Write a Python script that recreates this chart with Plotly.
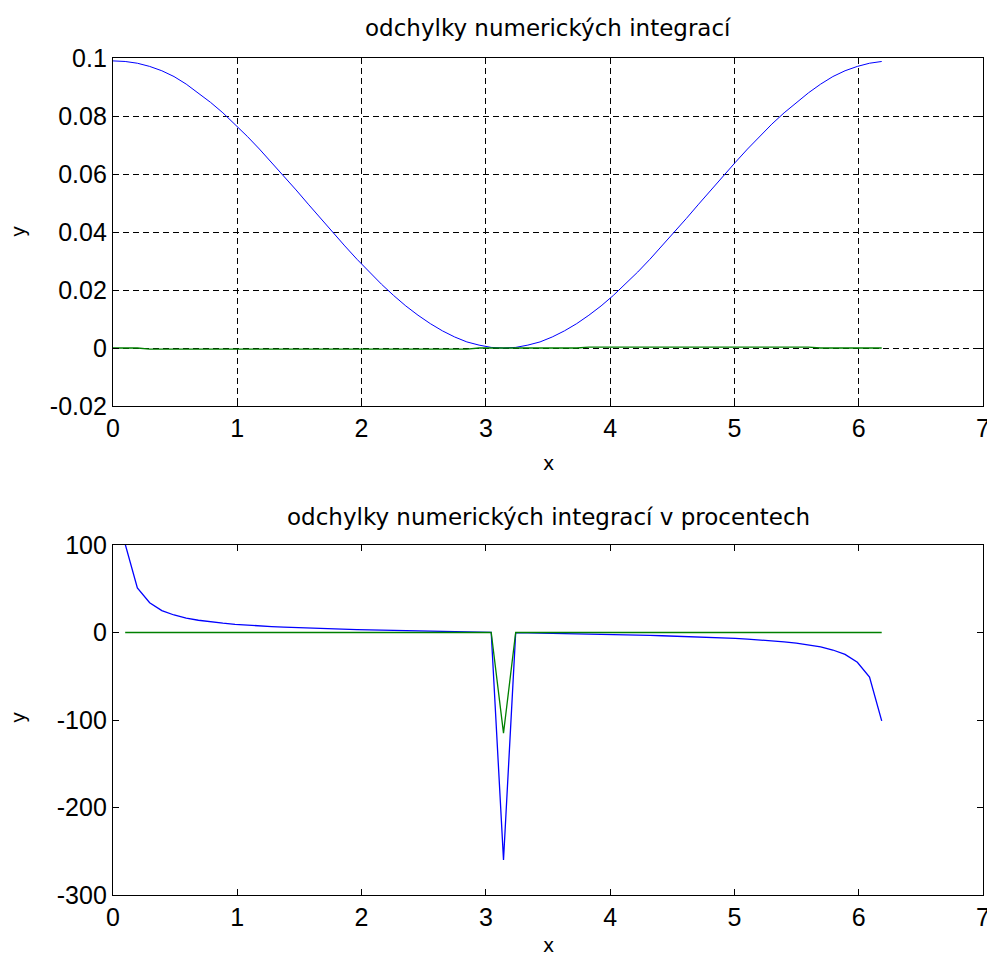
import plotly.graph_objects as go

# sample positions (x_k = k*pi/32, k = 0..63)
x_vals = [0.000, 0.098, 0.196, 0.295, 0.393, 0.491, 0.589, 0.687, 0.785, 0.884,
          0.982, 1.080, 1.178, 1.276, 1.374, 1.473, 1.571, 1.669, 1.767, 1.865,
          1.963, 2.062, 2.160, 2.258, 2.356, 2.454, 2.553, 2.651, 2.749, 2.847,
          2.945, 3.043, 3.142, 3.240, 3.338, 3.436, 3.534, 3.632, 3.731, 3.829,
          3.927, 4.025, 4.123, 4.222, 4.320, 4.418, 4.516, 4.614, 4.712, 4.811,
          4.909, 5.007, 5.105, 5.203, 5.301, 5.400, 5.498, 5.596, 5.694, 5.792,
          5.890, 5.989, 6.087, 6.185]

# top panel: deviations
dev_blue = [0.0990, 0.0988, 0.0982, 0.0971, 0.0956, 0.0936, 0.0910, 0.0880, 0.0847, 0.0811,
            0.0772, 0.0730, 0.0686, 0.0640, 0.0593, 0.0545, 0.0496, 0.0447, 0.0399, 0.0352,
            0.0306, 0.0262, 0.0220, 0.0181, 0.0145, 0.0113, 0.0084, 0.0059, 0.0038, 0.0021,
            0.0010, 0.0002, 0.0000, 0.0002, 0.0010, 0.0021, 0.0038, 0.0059, 0.0084, 0.0113,
            0.0145, 0.0181, 0.0220, 0.0262, 0.0306, 0.0352, 0.0399, 0.0447, 0.0496, 0.0545,
            0.0593, 0.0640, 0.0686, 0.0730, 0.0772, 0.0811, 0.0847, 0.0880, 0.0910, 0.0936,
            0.0956, 0.0971, 0.0982, 0.0988]
dev_green = [0.0, 0.0, 0.0, -0.0004, -0.0004, -0.0004, -0.0004, -0.0004, -0.0004, -0.0004,
             -0.0004, -0.0004, -0.0004, -0.0004, -0.0004, -0.0004, -0.0004, -0.0004, -0.0004, -0.0004,
             -0.0004, -0.0004, -0.0004, -0.0004, -0.0004, -0.0004, -0.0004, -0.0004, -0.0004, -0.0004,
             0.0, 0.0, 0.0, 0.0, 0.0, 0.0, 0.0, 0.0, 0.0, 0.0003,
             0.0003, 0.0003, 0.0003, 0.0003, 0.0003, 0.0003, 0.0003, 0.0003, 0.0003, 0.0003,
             0.0003, 0.0003, 0.0003, 0.0003, 0.0003, 0.0003, 0.0003, 0.0003, 0.0, 0.0,
             0.0, 0.0, 0.0, 0.0]

# bottom panel: deviations in percent (start at k = 1)
pct_x = x_vals[1:]
pct_blue = [101.0, 51.0, 34.0, 25.1, 20.0, 16.5, 14.0, 12.1, 10.6,
            9.4, 8.3, 7.5, 6.7, 6.1, 5.5, 5.0, 4.5, 4.1, 3.7,
            3.3, 3.0, 2.7, 2.4, 2.1, 1.8, 1.5, 1.2, 1.0, 0.7,
            0.5, 0.2, -260.0, -0.2, -0.5, -0.7, -1.0, -1.2, -1.5, -1.8,
            -2.1, -2.4, -2.7, -3.0, -3.3, -3.7, -4.1, -4.5, -5.0, -5.5,
            -6.1, -6.7, -7.5, -8.3, -9.4, -10.6, -12.1, -14.0, -16.5, -20.0,
            -25.1, -34.0, -51.0, -101.0]
pct_green = [0.0] * 31 + [-115.0] + [0.0] * 31

x_ticks = [0, 1, 2, 3, 4, 5, 6, 7]
top_yticks = [0.1, 0.08, 0.06, 0.04, 0.02, 0, -0.02]
top_yticktext = ["0.1", "0.08", "0.06", "0.04", "0.02", "0", "-0.02"]
bot_yticks = [100, 0, -100, -200, -300]
bot_yticktext = ["100", "0", "-100", "-200", "-300"]

title_top = "odchylky numerických integrací"
title_bot = "odchylky numerických integrací v procentech"

BLUE = "#0000ff"
GREEN = "#008000"
W, H = 987, 961


def px(x):
    return x / W


def py(y):
    return 1 - y / H


fig = go.Figure()
fig.add_trace(go.Scatter(x=x_vals, y=dev_blue, mode="lines", line=dict(color=BLUE, width=1),
                         xaxis="x", yaxis="y", showlegend=False))
fig.add_trace(go.Scatter(x=x_vals, y=dev_green, mode="lines", line=dict(color=GREEN, width=1.3),
                         xaxis="x", yaxis="y", showlegend=False))
fig.add_trace(go.Scatter(x=pct_x, y=pct_blue, mode="lines", line=dict(color=BLUE, width=1.3),
                         xaxis="x2", yaxis="y2", showlegend=False))
fig.add_trace(go.Scatter(x=pct_x, y=pct_green, mode="lines", line=dict(color=GREEN, width=1.3),
                         xaxis="x2", yaxis="y2", showlegend=False))

tickfont = dict(family="Liberation Sans, Arial, sans-serif", size=25, color="black")
xdom = [px(113), px(983)]
top_dom = [py(406), py(58)]
bot_dom = [py(895), py(545)]

common = dict(showline=True, linecolor="black", linewidth=1.3, mirror="ticks",
              ticks="inside", ticklen=6, tickcolor="black", tickwidth=1.3,
              zeroline=False, tickfont=tickfont, automargin=False,
              ticklabeloverflow="allow")

fig.update_layout(
    width=W, height=H,
    margin=dict(l=0, r=0, t=0, b=0, autoexpand=False),
    paper_bgcolor="white", plot_bgcolor="white",
    xaxis=dict(domain=xdom, range=[0, 7], tickvals=x_ticks, anchor="y",
               showgrid=True, gridcolor="black", gridwidth=1, griddash="6px,4px", **common),
    yaxis=dict(domain=top_dom, range=[-0.02, 0.1], tickvals=top_yticks, ticktext=top_yticktext,
               anchor="x", showgrid=True, gridcolor="black", gridwidth=1, griddash="6px,4px",
               **common),
    xaxis2=dict(domain=xdom, range=[0, 7], tickvals=x_ticks, anchor="y2", showgrid=False, **common),
    yaxis2=dict(domain=bot_dom, range=[-300, 100], tickvals=bot_yticks, ticktext=bot_yticktext,
                anchor="x2", showgrid=False, **common),
)

tfont = dict(family="DejaVu Sans, sans-serif", size=23, color="black")
lfont = dict(family="DejaVu Sans, sans-serif", size=19, color="black")
ann = [
    dict(text=title_top, x=px(548), y=py(28), font=tfont),
    dict(text=title_bot, x=px(548), y=py(517), font=tfont),
    dict(text="x", x=px(548), y=py(463), font=lfont),
    dict(text="x", x=px(548), y=py(945), font=lfont),
    dict(text="y", x=px(18), y=py(232), font=lfont, textangle=-90),
    dict(text="y", x=px(18), y=py(718), font=lfont, textangle=-90),
]
for a in ann:
    fig.add_annotation(xref="paper", yref="paper", showarrow=False,
                       xanchor="center", yanchor="middle", **a)

fig.write_html("out.html",
               config={"displayModeBar": False},
               post_script="document.body.style.margin='0';document.body.style.overflow='hidden';")
